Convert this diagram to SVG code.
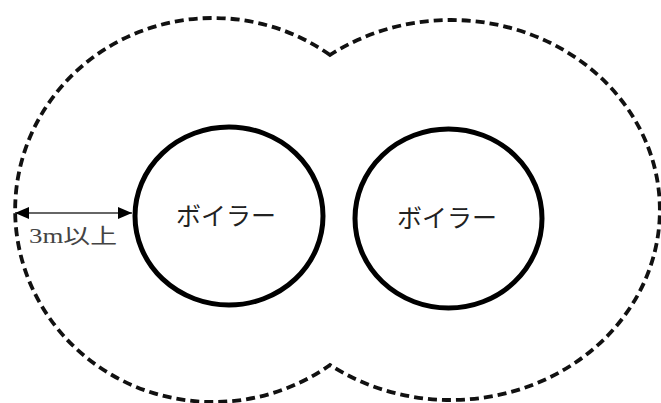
<svg xmlns="http://www.w3.org/2000/svg" width="661" height="403" viewBox="0 0 661 403">
<style>
.zone{fill:none;stroke:#111;stroke-width:3.8;stroke-dasharray:9 5}
.boiler{fill:#fff;stroke:#000;stroke-width:5}
.lbl{font-family:"Noto Sans CJK JP",sans-serif;font-size:25px;fill:#222;text-anchor:middle}
.dim{font-family:"Liberation Serif","Noto Sans CJK JP",serif;font-size:21px;fill:#444}
.conn{stroke:#333;stroke-width:1.5;fill:none}
</style>
<defs>
<marker id="ah" viewBox="0 0 14 12" refX="14" refY="6" markerWidth="14" markerHeight="12" markerUnits="userSpaceOnUse" orient="auto-start-reverse">
<path d="M0,0 L14,6 L0,12 Z" fill="#000"/>
</marker>
</defs>
<rect width="661" height="403" fill="#fff"/>
<g id="zone">
<path class="zone" d="M330,55 A198,192 0 1,0 330,365 A209,190 0 1,0 330,55 Z"/>
</g>
<g id="boiler1">
<ellipse class="boiler" cx="229" cy="216" rx="94" ry="89"/>
<text class="lbl" x="226" y="225">ボイラー</text>
</g>
<g id="boiler2">
<ellipse class="boiler" cx="448.5" cy="218.5" rx="93.5" ry="89.5"/>
<text class="lbl" x="447" y="227">ボイラー</text>
</g>
<g id="connectors">
<line class="conn" x1="15" y1="213" x2="132" y2="213" marker-start="url(#ah)" marker-end="url(#ah)"/>
<text class="dim" x="29" y="243" textLength="88" lengthAdjust="spacingAndGlyphs">3m以上</text>
</g>
</svg>
